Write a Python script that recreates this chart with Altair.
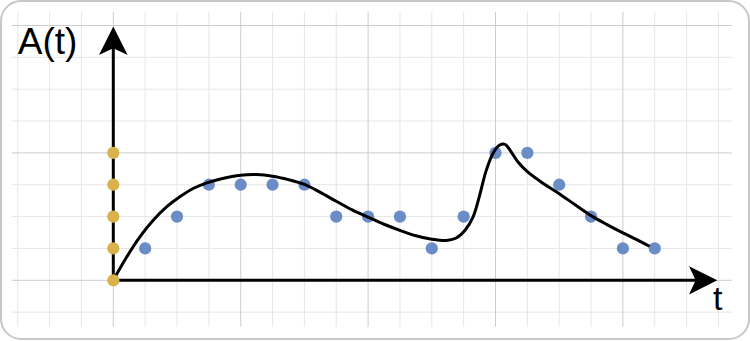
import altair as alt
import pandas as pd

# ---- data ----
blue_t = [1, 2, 3, 4, 5, 6, 7, 8, 9, 10, 11, 12, 13, 14, 15, 16, 17]
blue_a = [1, 2, 3, 3, 3, 3, 2, 2, 2, 1, 2, 4, 4, 3, 2, 1, 1]

yellow_t = [0, 0, 0, 0, 0]
yellow_a = [0, 1, 2, 3, 4]

curve_t = [0, 0.42, 0.84, 1.26, 1.68, 2.1, 2.52, 2.94, 3.4, 4.0, 4.5, 5.0, 5.5,
           6.0, 6.5, 7.0, 7.5, 8.0, 8.5, 9.0, 9.5, 10.0, 10.45, 10.75, 11.05, 11.3,
           11.5, 11.7, 11.92, 12.12, 12.3, 12.48, 12.7, 13.0, 13.5,
           14.0, 14.5, 15.0, 15.5, 16.0, 16.45, 16.84]
curve_a = [0, 0.73, 1.37, 1.89, 2.31, 2.63, 2.89, 3.06, 3.19, 3.30, 3.32, 3.27, 3.16,
           3.01, 2.76, 2.48, 2.21, 1.98, 1.76, 1.57, 1.40, 1.29, 1.25, 1.32, 1.58, 2.0,
           2.66, 3.42, 3.98, 4.24, 4.27, 4.05, 3.72, 3.41, 3.04,
           2.72, 2.37, 2.03, 1.75, 1.49, 1.27, 1.07]

grid_minor_t = [-3, -2, -1, 1, 2, 3, 5, 6, 7, 9, 10, 11, 13, 14, 15, 17, 18, 19]
grid_major_t = [0, 4, 8, 12, 16]
grid_minor_a = [-1, 1, 2, 3, 5, 6, 7]
grid_major_a = [0, 4, 8]

# ---- scales ----
xs = alt.Scale(domain=[-3.526, 19.959], nice=False, zero=False)
ys = alt.Scale(domain=[-1.843, 8.769], nice=False, zero=False)


def X(field):
    return alt.X(field, type="quantitative", scale=xs, axis=None)


def Y(field):
    return alt.Y(field, type="quantitative", scale=ys, axis=None)


def vgrid(ts, color):
    df = pd.DataFrame({"t": ts, "y1": [-1.46] * len(ts), "y2": [8.43] * len(ts)})
    return alt.Chart(df).mark_rule(color=color, strokeWidth=1).encode(
        x=X("t"), y=Y("y1"), y2="y2:Q")


def hgrid(as_, color):
    df = pd.DataFrame({"a": as_, "x1": [-3.19] * len(as_), "x2": [19.42] * len(as_)})
    return alt.Chart(df).mark_rule(color=color, strokeWidth=1).encode(
        y=Y("a"), x=X("x1"), x2="x2:Q")


vmin = vgrid(grid_minor_t, "#e6e6e6")
vmaj = vgrid(grid_major_t, "#cdcdcd")
hmin = hgrid(grid_minor_a, "#e6e6e6")
hmaj = hgrid(grid_major_a, "#cdcdcd")

xaxis = alt.Chart(pd.DataFrame({"a": [0], "x1": [0], "x2": [18.3]})).mark_rule(
    color="black", strokeWidth=3).encode(y=Y("a"), x=X("x1"), x2="x2:Q")
yaxis = alt.Chart(pd.DataFrame({"t": [0], "y1": [0], "y2": [7.3]})).mark_rule(
    color="black", strokeWidth=3).encode(x=X("t"), y=Y("y1"), y2="y2:Q")

arrow_shape = "M0,-1 L1,1 L0,0.53 L-1,1 Z"
yarrow = alt.Chart(pd.DataFrame({"t": [0], "a": [7.52]})).mark_point(
    shape=arrow_shape, filled=True, color="black", opacity=1, size=820, strokeWidth=0
).encode(x=X("t"), y=Y("a"))
xarrow = alt.Chart(pd.DataFrame({"t": [18.52], "a": [0]})).mark_point(
    shape=arrow_shape, filled=True, color="black", opacity=1, size=800, strokeWidth=0, angle=90
).encode(x=X("t"), y=Y("a"))

blue = alt.Chart(pd.DataFrame({"t": blue_t, "a": blue_a})).mark_circle(
    color="#6a8dc8", opacity=1, size=150).encode(x=X("t"), y=Y("a"))

curve = alt.Chart(pd.DataFrame({"t": curve_t, "a": curve_a})).mark_line(
    color="black", strokeWidth=3, interpolate="catmull-rom").encode(x=X("t"), y=Y("a"))

yellow = alt.Chart(pd.DataFrame({"t": yellow_t, "a": yellow_a})).mark_circle(
    color="#d9b24c", opacity=1, size=150).encode(x=X("t"), y=Y("a"))

ylabel = alt.Chart(pd.DataFrame({"t": [-3.0], "a": [7.1], "s": ["A(t)"]})).mark_text(
    font="Liberation Sans", fontSize=37, align="left", baseline="alphabetic", color="black"
).encode(x=X("t"), y=Y("a"), text="s:N")
xlabel = alt.Chart(pd.DataFrame({"t": [18.98], "a": [-0.93], "s": ["t"]})).mark_text(
    font="Liberation Sans", fontSize=34, align="center", baseline="alphabetic", color="black"
).encode(x=X("t"), y=Y("a"), text="s:N")

chart = alt.layer(
    vmin, hmin, vmaj, hmaj, xaxis, yaxis, yarrow, xarrow, blue, curve, yellow, ylabel, xlabel
).properties(
    width=748, height=338,
    padding={"left": 1, "top": 1, "right": 1, "bottom": 2},
    autosize=alt.AutoSizeParams(type="none"),
    background="white",
).configure_view(
    stroke="#c8c8c8", strokeWidth=2, cornerRadius=20
)

chart.save("out.html", embed_options={"renderer": "svg", "actions": False})
